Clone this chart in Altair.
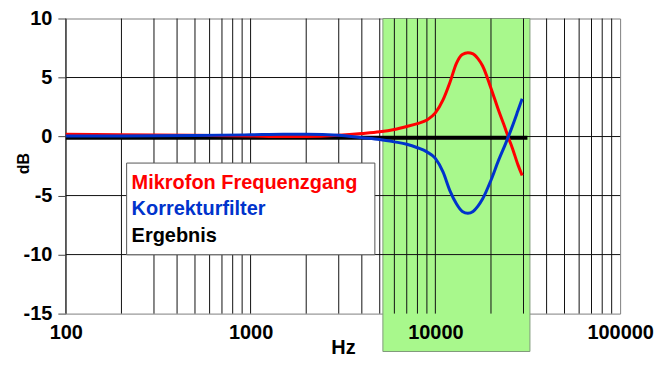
import altair as alt
import pandas as pd

# ---- data ----
hz = [100, 200, 500, 1000, 1500, 2000, 3000, 4000, 5000, 6000, 7000, 8000, 9000,
      10000, 11000, 12000, 13000, 14000, 15000, 16000, 17000, 18000, 20000,
      22000, 24000, 25000, 26000, 28000, 29500]
mic_db = [0.2, 0.15, 0.1, 0.05, 0.0, 0.0, 0.1, 0.25, 0.4, 0.6, 0.85, 1.1, 1.4,
          2.0, 3.1, 4.6, 6.2, 6.95, 7.1, 7.0, 6.6, 6.0, 4.1,
          2.2, 0.6, -0.2, -0.9, -2.4, -3.3]
filter_db = [0.05, 0.05, 0.08, 0.15, 0.2, 0.2, 0.1, -0.1, -0.25, -0.45, -0.65, -0.95, -1.3,
             -1.85, -3.0, -4.6, -5.7, -6.35, -6.5, -6.35, -5.9, -5.3, -3.7,
             -2.0, -0.6, 0.1, 0.8, 2.2, 3.2]
result_hz = [100, 31500]
result_db = [-0.1, -0.1]
band_hz = [5200, 32500]

series_names = ["Mikrofon Frequenzgang", "Korrekturfilter", "Ergebnis"]
series_colors = ["#FF0000", "#0033CC", "#000000"]

x_ticks = [100, 1000, 10000, 100000]
y_ticks = [-15, -10, -5, 0, 5, 10]
grid_hz = [100, 200, 300, 400, 500, 600, 700, 800, 900,
           1000, 2000, 3000, 4000, 5000, 6000, 7000, 8000, 9000,
           10000, 20000, 30000, 40000, 50000, 60000, 70000, 80000, 90000]
grid_db = [-10, -5, 0, 5]

FONT = "Liberation Sans"

xscale = alt.Scale(type="log", domain=[100, 100000], nice=False)
yscale = alt.Scale(domain=[-15, 10], nice=False)

x_axis = alt.Axis(
    values=x_ticks, labelExpr="'' + datum.value", grid=False, ticks=False, domain=False,
    labelFont=FONT, labelFontWeight="bold", labelFontSize=20, labelColor="#000",
    labelPadding=9, labelFlush=False, labelOverlap=False,
    title="Hz", titleFont=FONT, titleFontWeight="bold", titleFontSize=20,
    titleColor="#000", titleY=40, titleBaseline="alphabetic", zindex=1,
)
y_axis = alt.Axis(
    values=y_ticks, labelExpr="'' + datum.value", grid=False, ticks=True, tickSize=8,
    tickColor="#444", domain=False, labelFont=FONT, labelFontWeight="bold",
    labelFontSize=20, labelColor="#000", labelPadding=6, labelFlush=False,
    labelOverlap=False,
    title="dB", titleFont=FONT, titleFontWeight="bold", titleFontSize=16,
    titleColor="#000", titleAngle=-90, titleX=-42, titleY=145,
    titleAlign="center", titleBaseline="middle", zindex=1,
)

# green band
band_df = pd.DataFrame({"lo": [band_hz[0]], "hi": [band_hz[1]]})
band = alt.Chart(band_df).mark_rect(
    fill="#A8F88C", stroke="#7F9A7A", strokeWidth=1
).encode(
    x=alt.X("lo:Q", scale=xscale, axis=x_axis, title="Hz"),
    x2="hi:Q",
    y=alt.value(0),
    y2=alt.value(334),
)

# grid lines
vgrid = alt.Chart(pd.DataFrame({"hz": grid_hz})).mark_rule(
    color="#111111", strokeWidth=1
).encode(x=alt.X("hz:Q", scale=xscale, axis=x_axis, title="Hz"))

hgrid = alt.Chart(pd.DataFrame({"db": grid_db})).mark_rule(
    color="#111111", strokeWidth=1
).encode(y=alt.Y("db:Q", scale=yscale, axis=y_axis, title="dB"))

# curves
curve_df = pd.DataFrame({"hz": hz, "mic": mic_db, "filt": filter_db})
res_df = pd.DataFrame({"hz": result_hz, "db": result_db})

result_line = alt.Chart(res_df).mark_line(
    color=series_colors[2], strokeWidth=4
).encode(
    x=alt.X("hz:Q", scale=xscale, axis=x_axis, title="Hz"),
    y=alt.Y("db:Q", scale=yscale, axis=y_axis, title="dB"),
)

mic_line = alt.Chart(curve_df).mark_line(
    color=series_colors[0], strokeWidth=3, interpolate="monotone"
).encode(
    x=alt.X("hz:Q", scale=xscale, axis=x_axis, title="Hz"),
    y=alt.Y("mic:Q", scale=yscale, axis=y_axis, title="dB"),
)

filt_line = alt.Chart(curve_df).mark_line(
    color=series_colors[1], strokeWidth=3, interpolate="monotone"
).encode(
    x=alt.X("hz:Q", scale=xscale, axis=x_axis, title="Hz"),
    y=alt.Y("filt:Q", scale=yscale, axis=y_axis, title="dB"),
)

# legend box
legend_box = alt.Chart(pd.DataFrame({"k": [0]})).mark_rect(
    fill="#FFFFFF", stroke="#555555", strokeWidth=1
).encode(
    x=alt.value(61), x2=alt.value(310), y=alt.value(145), y2=alt.value(237)
)

legend_texts = []
for i, (name, col) in enumerate(zip(series_names, series_colors)):
    legend_texts.append(
        alt.Chart(pd.DataFrame({"label": [name]})).mark_text(
            align="left", baseline="alphabetic", font=FONT, fontWeight="bold",
            fontSize=20, color=col
        ).encode(
            text="label:N",
            x=alt.value(66),
            y=alt.value(171 + i * 26.5),
        )
    )

chart = alt.layer(
    band, vgrid, hgrid, result_line, mic_line, filt_line, legend_box, *legend_texts
).properties(
    width=556,
    height=296,
    padding={"left": 58, "top": 10, "right": 40, "bottom": 45},
    autosize=alt.AutoSizeParams(type="none"),
    background="#FFFFFF",
).configure_view(
    stroke="#808080", strokeWidth=1
)

chart.save("out.html", embed_options={"renderer": "svg", "actions": False})
